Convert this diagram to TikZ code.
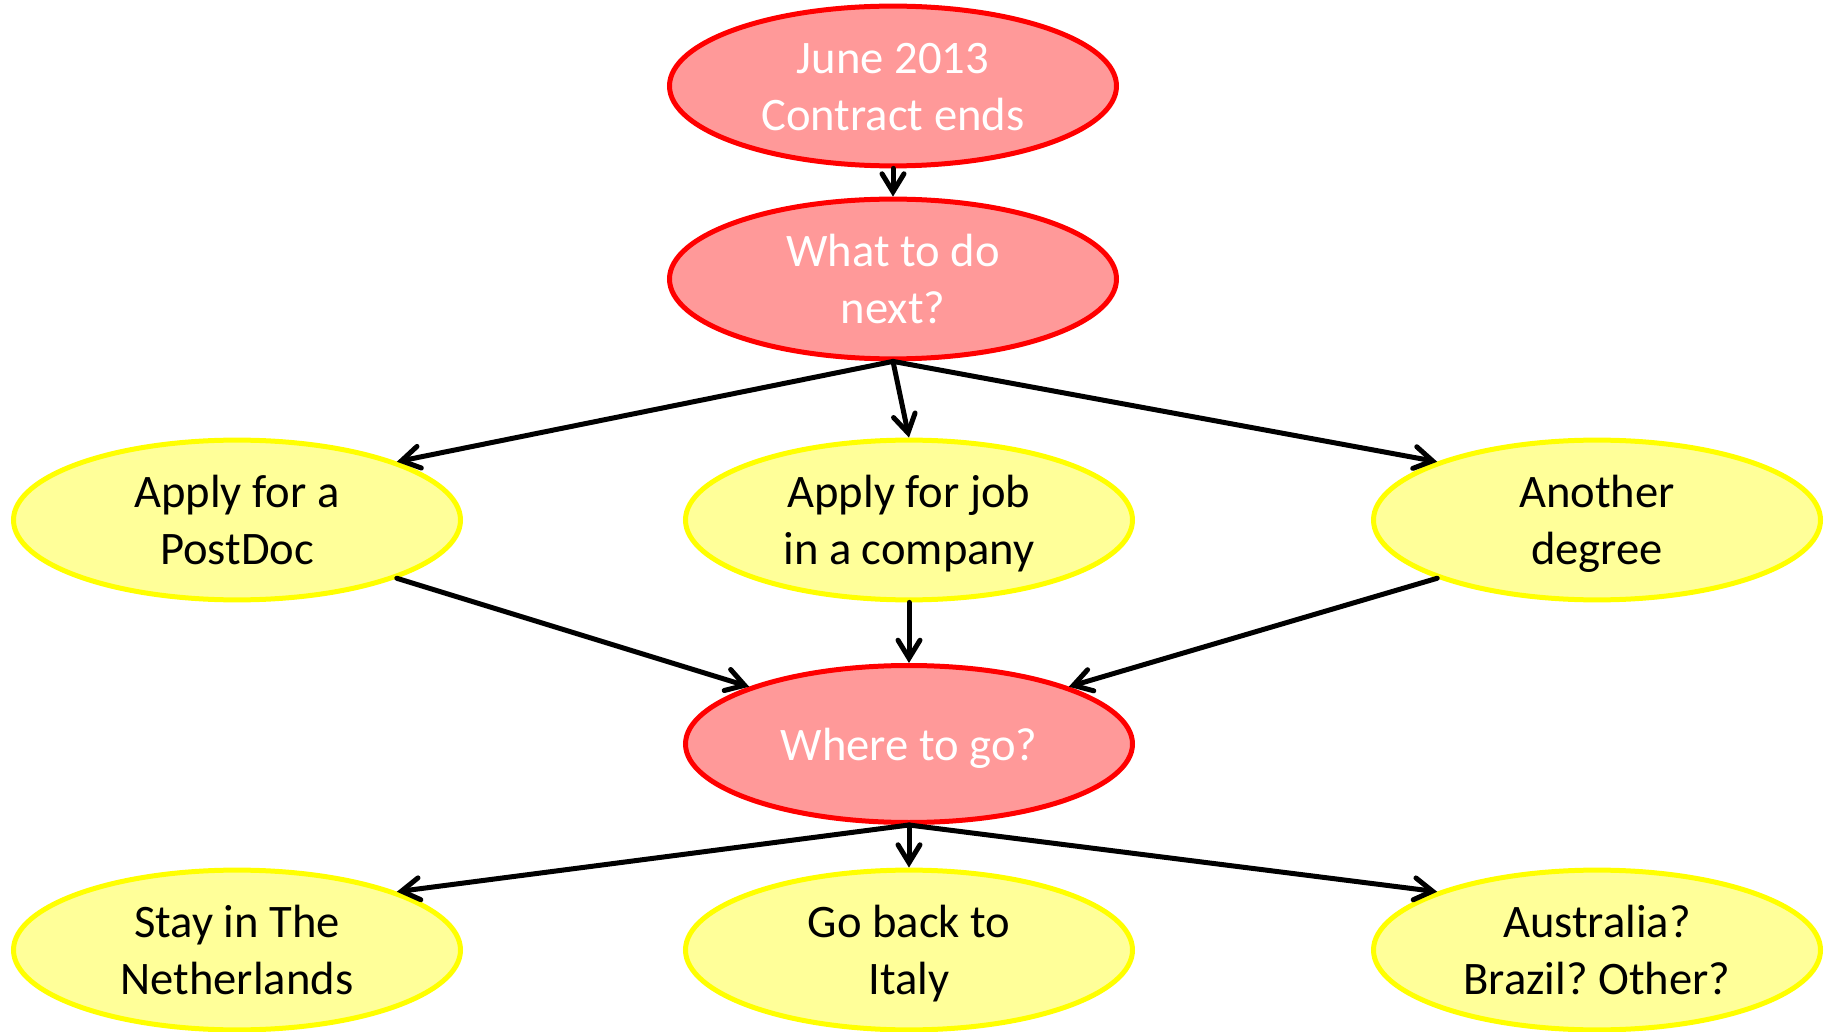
\documentclass[tikz,border=0pt]{standalone}
\usepackage{fontspec}
\setmainfont{Carlito}
\frenchspacing
\usetikzlibrary{shapes.geometric,arrows.meta}
\definecolor{redfill}{HTML}{FF9999}
\definecolor{redline}{HTML}{FF0000}
\definecolor{yelfill}{HTML}{FFFF99}
\definecolor{yelline}{HTML}{FFFF00}
\newcommand{\mystrut}{\rule[-6pt]{0pt}{28pt}}
\tikzset{
  bubble/.style={ellipse, minimum width=223.5pt, minimum height=78.5pt, inner sep=0pt,
    line width=2.5pt, align=center, font=\fontsize{23.3}{28.5}\selectfont},
  redbubble/.style={bubble, fill=redfill, draw=redline, text=white},
  yelbubble/.style={bubble, fill=yelfill, draw=yelline, text=black},
  conn/.style={line width=2.5pt, line cap=round, -{Straight Barb[length=9pt,width=11pt,line cap=round]}}
}
\begin{document}
\begin{tikzpicture}[x=0.5pt,y=-0.5pt]
\useasboundingbox (0,0) rectangle (1828,1032);
\node[redbubble] (A) at (893,86) {June 2013\mystrut\\Contract ends\mystrut};
\node[redbubble] (B) at (893,279) {What to do\mystrut\\next?\mystrut};
\node[yelbubble] (C) at (237,520) {Apply for a\mystrut\\PostDoc\mystrut};
\node[yelbubble] (D) at (909,520) {Apply for job\mystrut\\in a company\mystrut};
\node[yelbubble] (E) at (1597,520) {Another\mystrut\\degree\mystrut};
\node[redbubble] (F) at (909,744) {Where to go?\mystrut};
\node[yelbubble] (G) at (237,950) {Stay in The\mystrut\\Netherlands\mystrut};
\node[yelbubble] (H) at (909,950) {Go back to\mystrut\\Italy\mystrut};
\node[yelbubble] (I) at (1597,950) {Australia?\mystrut\\Brazil? Other?\mystrut};
\draw[conn] (A.south) -- (B.north);
\draw[conn] (B.south) -- (C.north east);
\draw[conn] (B.south) -- (D.north);
\draw[conn] (B.south) -- (E.north west);
\draw[conn] (C.south east) -- (F.north west);
\draw[conn] (D.south) -- (F.north);
\draw[conn] (E.south west) -- (F.north east);
\draw[conn] (F.south) -- (G.north east);
\draw[conn] (F.south) -- (H.north);
\draw[conn] (F.south) -- (I.north west);
\end{tikzpicture}
\end{document}
